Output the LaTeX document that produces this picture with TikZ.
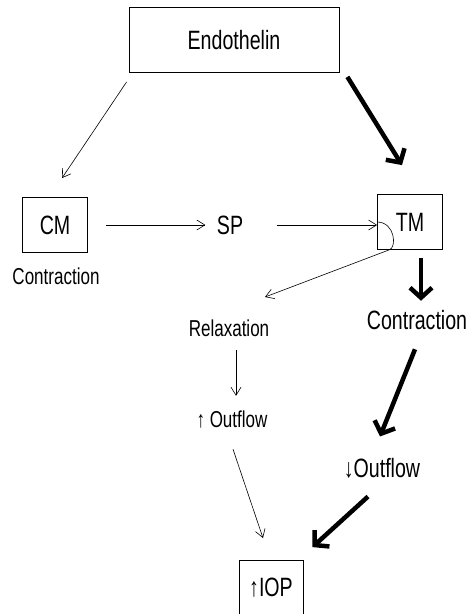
\documentclass[tikz,border=0pt]{standalone}
\usepackage{fontspec}
\newfontfamily\diagfont[FakeStretch=0.74]{Liberation Sans}
\usetikzlibrary{arrows.meta,positioning}

\tikzset{
	box/.style={draw, line width=0.8pt, minimum width=65pt, minimum height=55pt, inner sep=0pt},
	bigtext/.style={font=\diagfont\fontsize{26.5}{30}\selectfont},
	smalltext/.style={font=\diagfont\fontsize{23}{27}\selectfont},
	lightarrow/.style={line width=0.6pt, -{Straight Barb[length=8pt,width=10pt]}},
	heavyarrow/.style={line width=4.5pt, -{Straight Barb[length=10pt,width=22pt]}}
}

\begin{document}
\begin{tikzpicture}[x=1pt, y=-1pt]
	\useasboundingbox (0,0) rectangle (472,614);

	\node[box, bigtext, minimum width=210pt, minimum height=65pt] (endo) at (234,40) {Endothelin};
	\node[box, bigtext] (cm) at (55,225) {CM};
	\node[smalltext] (cmcon) at (56,276) {Contraction};
	\node[bigtext] (sp) at (230,225) {SP};
	\node[box, bigtext] (tm) at (410,222) {TM};
	\node[smalltext] (relax) at (229,328) {Relaxation};
	\node[smalltext] (upout) at (232,420) {↑ Outflow};
	\node[bigtext] (con) at (417,320) {Contraction};
	\node[bigtext] (downout) at (382,468) {↓Outflow};
	\node[box, bigtext, minimum width=64pt] (iop) at (271,588) {↑IOP};
	\coordinate (rtip) at (265,297);

	% left side
	\draw[lightarrow] ([shift={(-2,9)}]endo.south west) -- ([shift={(7,-19)}]cm.north);
	\draw[lightarrow, shorten <=18pt, shorten >=8pt] (cm.east) -- (sp.west);
	\draw[lightarrow, shorten <=30pt] (sp.east) -- (sp.east -| tm.west);
	\draw[lightarrow] (tm.west) .. controls +(18,0) and +(8,-2) .. ([xshift=12pt]tm.south west) -- (rtip);
	\draw[lightarrow, shorten <=10pt, shorten >=12pt] ([xshift=7pt]relax.south) -- ([xshift=4pt]upout.north);
	\draw[lightarrow] ([shift={(1,17)}]upout.south) -- ([shift={(-8,-22)}]iop.north);

	% right side
	\draw[heavyarrow] ([shift={(8,4)}]endo.south east) -- ([shift={(-8,-29)}]tm.north);
	\draw[heavyarrow] ([shift={(11,8)}]tm.south) -- ([shift={(4,-6)}]con.north);
	\draw[heavyarrow] ([shift={(-2,16)}]con.south) -- ([shift={(-2,-18)}]downout.north);
	\draw[heavyarrow] ([shift={(-14,15)}]downout.south) -- ([shift={(9,-13)}]iop.north east);
\end{tikzpicture}
\end{document}
